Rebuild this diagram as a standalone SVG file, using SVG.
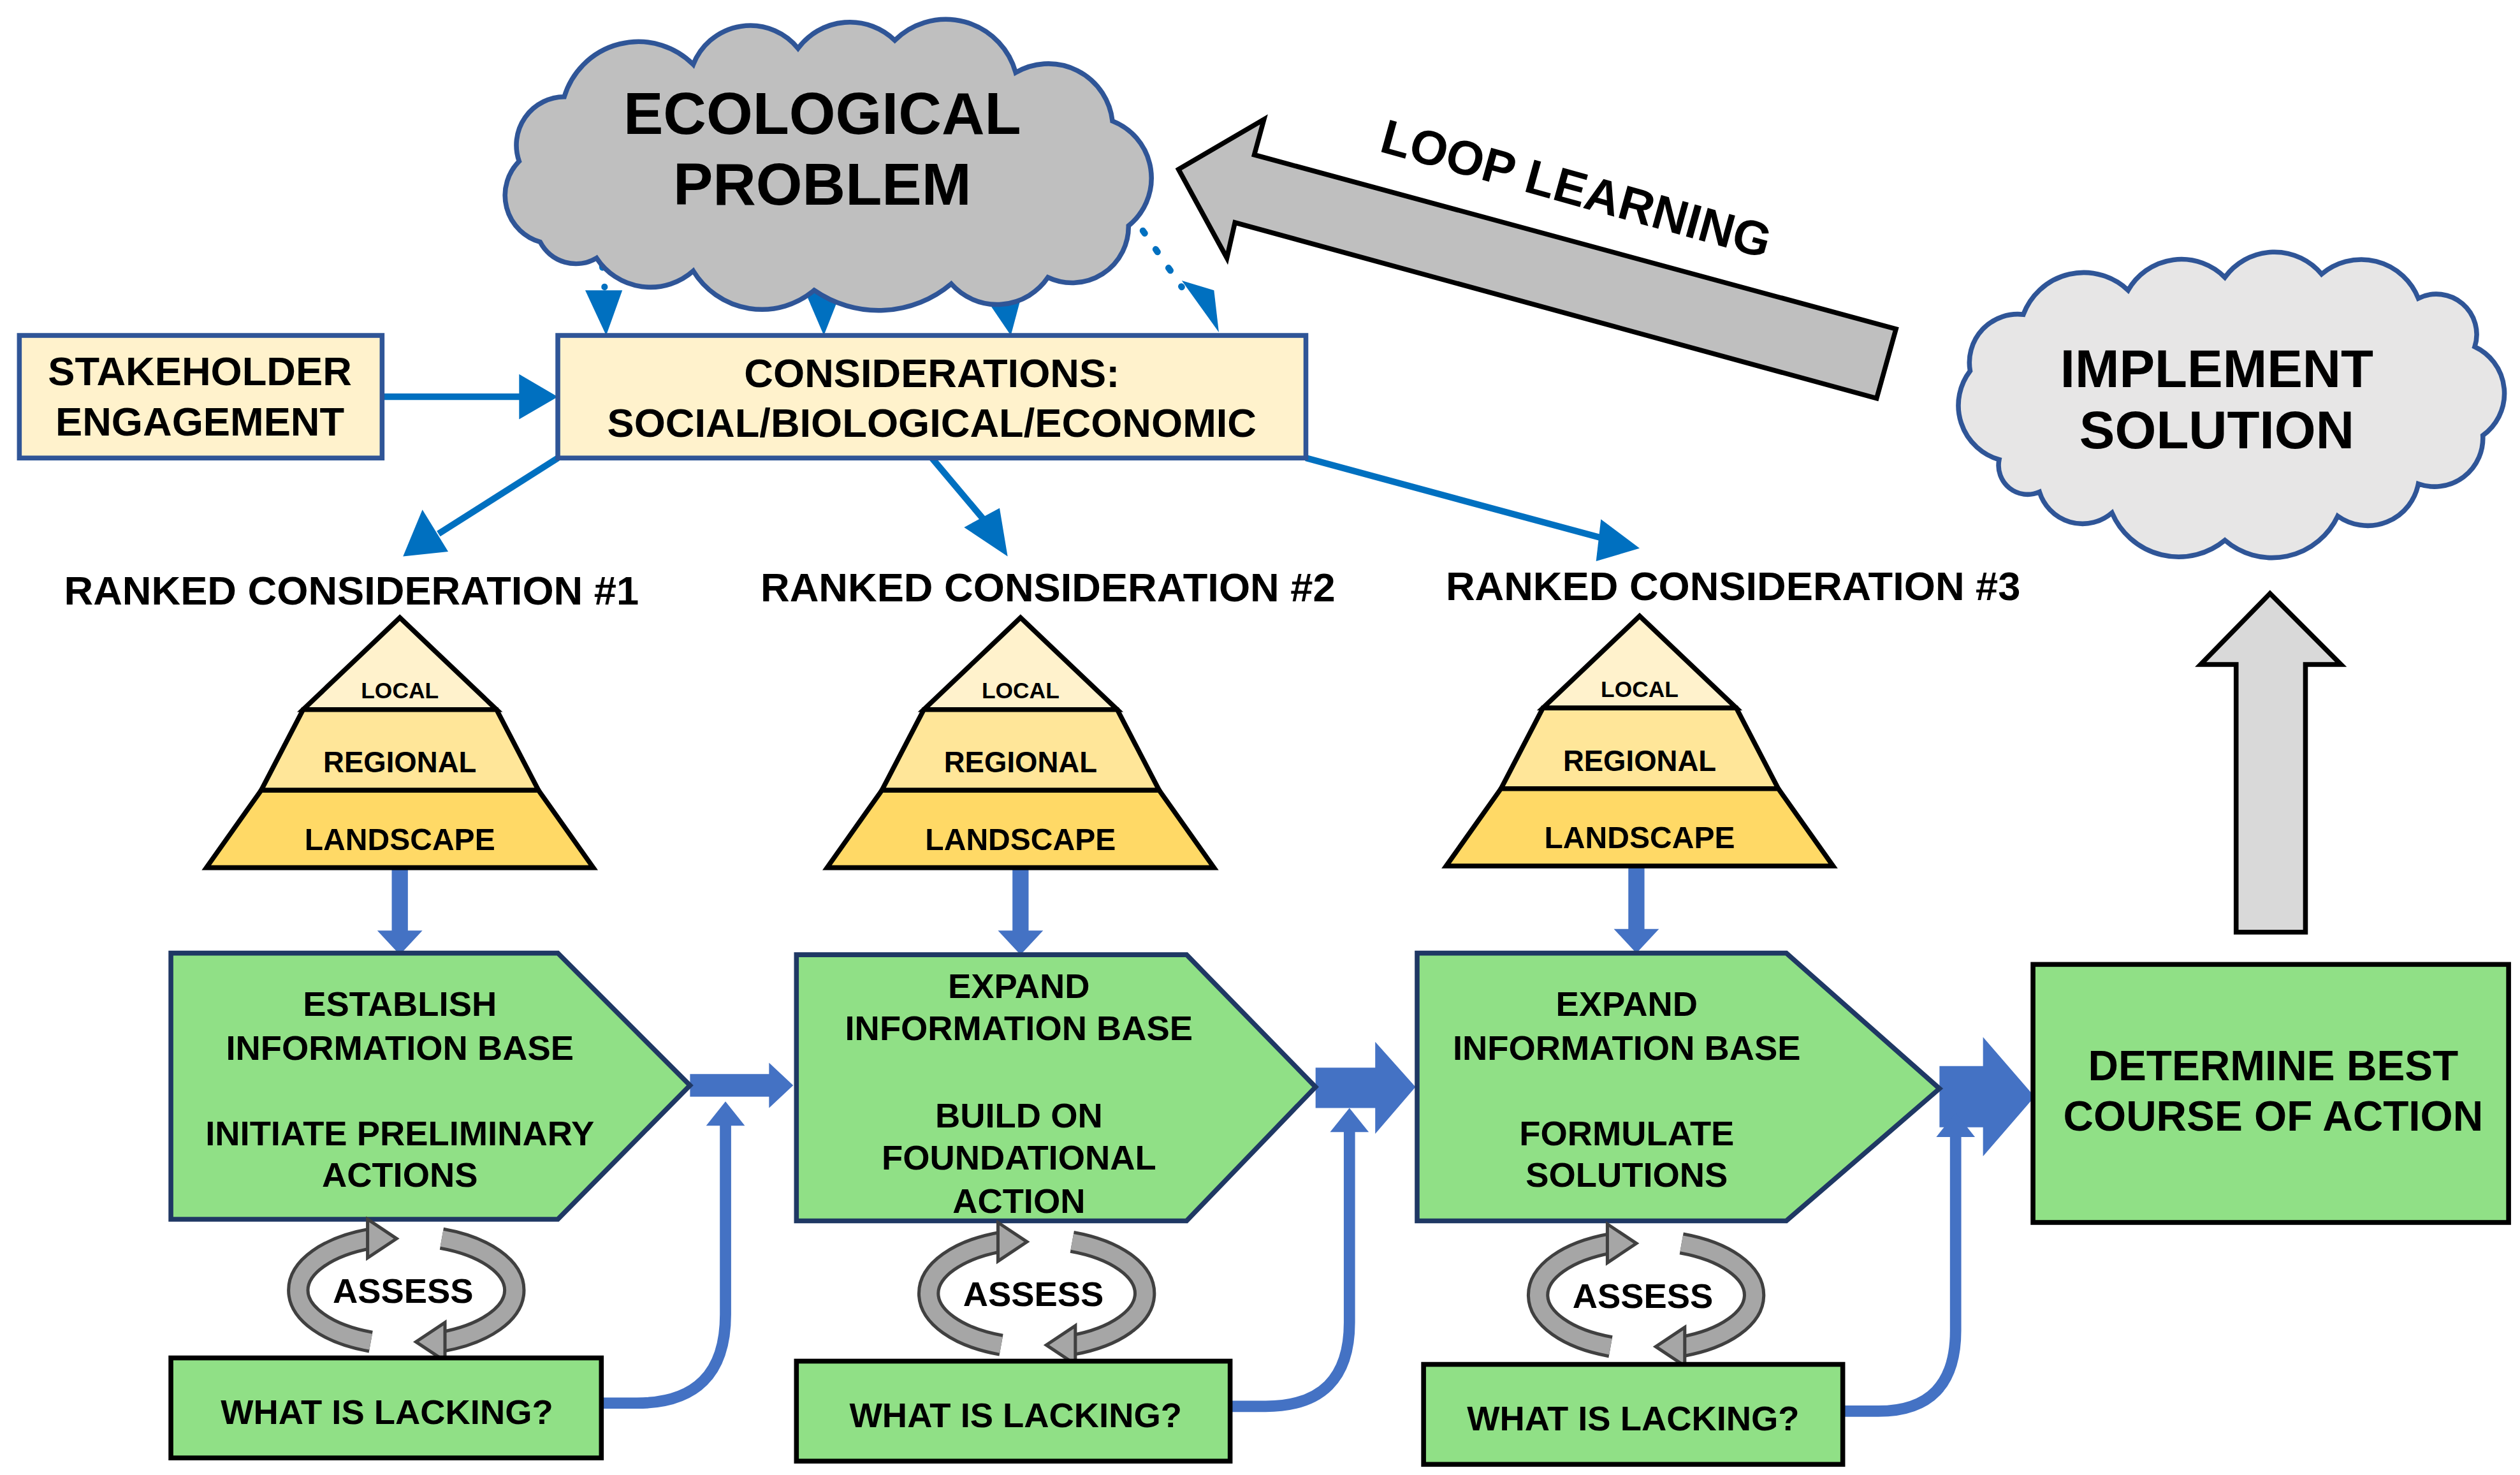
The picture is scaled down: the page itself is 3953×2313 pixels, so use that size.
<svg xmlns="http://www.w3.org/2000/svg" xmlns:xlink="http://www.w3.org/1999/xlink" width="3953" height="2313" viewBox="0 0 3953 2313">
<style>
text{font-family:"Liberation Sans",Arial,sans-serif;font-weight:bold;fill:#000;text-anchor:middle}
.t24{font-size:25px}.t21{font-size:21.5px}.t36{font-size:37px}
.cream{fill:#FFF2CC;stroke:#2F5597;stroke-width:3}
.green{fill:#90E086;stroke:#1F3864;stroke-width:3}
.greenk{fill:#90E086;stroke:#000;stroke-width:3}
.blue1{stroke:#0070C0;stroke-width:4;fill:none}
.dot{stroke:#0070C0;stroke-width:4;fill:none;stroke-dasharray:2 12;stroke-linecap:round}
.ah1{fill:#0070C0}
.b2{fill:#4472C4}
.b2l{stroke:#4472C4;stroke-width:7;fill:none}
.pyr{stroke:#000;stroke-width:3}
.ao{stroke:#404040;stroke-width:14;fill:none}
.ai{stroke:#A6A6A6;stroke-width:10;fill:none}
.ah{fill:#A6A6A6;stroke:#404040;stroke-width:2}
.cl{stroke:#2F5597;stroke-width:3}
</style>
<defs>
<g id="assess">
<path class="ao" d="M -22,32 A 68,34 0 0 1 -22,-32"/><path class="ai" d="M -22,32 A 68,34 0 0 1 -22,-32"/>
<polygon class="ah" points="-24,-44 -6,-32 -24,-20"/>
<path class="ao" d="M 22,-32 A 68,34 0 0 1 22,32"/><path class="ai" d="M 22,-32 A 68,34 0 0 1 22,32"/>
<polygon class="ah" points="24,20 6,32 24,44"/>
</g>
<g id="pyr">
<polygon points="0,0 -60,57 60,57" fill="#FFF2CC" class="pyr"/>
<polygon points="-60,57 60,57 86,107 -86,107" fill="#FFE699" class="pyr"/>
<polygon points="-86,107 86,107 120,155 -120,155" fill="#FFD966" class="pyr"/>
<text x="0" y="50" style="font-size:14px">LOCAL</text>
<text x="0" y="96" style="font-size:18px">REGIONAL</text>
<text x="0" y="144" style="font-size:19px">LANDSCAPE</text>
</g>
</defs>
<rect width="3953" height="2313" fill="#fff"/>
<g transform="scale(2.529)">
<g id="connectors">
<path class="dot" d="M372,150 L375,178"/><polygon class="ah1" points="363,180 386,180 376,208"/>
<path class="dot" d="M510,140 L510,178"/><polygon class="ah1" points="499,180 522,180 511,208"/>
<path class="dot" d="M618,140 L621,176"/><polygon class="ah1" points="610,183 635,178 627,208"/>
<path class="dot" d="M693,120 L733,178"/><polygon class="ah1" points="733,174 753,180 756,206"/>
<path class="blue1" d="M237,246 L325,246"/><polygon class="ah1" points="322,232 346,246 322,260"/>
<path class="blue1" d="M346,284 L272,331"/><polygon class="ah1" points="262,316 250,345 278,342"/>
<path class="blue1" d="M578,284 L610,322"/><polygon class="ah1" points="598,327 625,345 620,315"/>
<path class="blue1" d="M810,284 L995,334"/><polygon class="ah1" points="993,322 1017,340 990,348"/>
<g class="b2">
<polygon points="243,538 253,538 253,577 262,577 248,592 234,577 243,577"/>
<polygon points="628,538 638,538 638,577 647,577 633,592 619,577 628,577"/>
<polygon points="1010,537 1020,537 1020,576 1029,576 1015,591 1001,576 1010,576"/>
<polygon points="428,666 477,666 477,659 492,673 477,687 477,680 428,680"/>
<polygon points="816,662 853,662 853,646 878,674 853,703 853,687 816,687"/>
<polygon points="1203,661 1230,661 1230,643 1262,680 1230,717 1230,699 1203,699"/>
<polygon points="438,698 450,683 462,698"/>
<polygon points="825,702 837,687 849,702"/>
<polygon points="1201,705 1213,690 1225,705"/>
</g>
<path class="b2l" d="M373,870 H395 Q450,870 450,815 V697"/>
<path class="b2l" d="M763,872 H785 Q837,872 837,820 V701"/>
<path class="b2l" d="M1143,875 H1165 Q1213,875 1213,825 V704"/>
</g>
<g id="loop-learning">
<polygon points="731,105 784,74 778,96 1176,204 1164,247 766,138 761,160" fill="#BFBFBF" stroke="#000" stroke-width="3"/>
<text transform="translate(975,127) rotate(15.5)" style="font-size:30px">LOOP LEARNING</text>
</g>
<g id="ecological-problem">
<path class="cl" fill="#BFBFBF" d="M335,150 A30,30 0 0 1 322,100 A30,30 0 0 1 350,60 A48,48 0 0 1 430,40 A38,38 0 0 1 495,30 A40,40 0 0 1 555,25 A45,45 0 0 1 630,45 A40,40 0 0 1 690,75 A38,38 0 0 1 700,140 A35,35 0 0 1 650,172 A38,38 0 0 1 590,176 A70,70 0 0 1 505,180 A50,50 0 0 1 430,168 A40,40 0 0 1 370,160 A25,25 0 0 1 335,150 Z"/>
<text class="t36" x="510" y="83">ECOLOGICAL</text>
<text class="t36" x="510" y="127">PROBLEM</text>
</g>
<g id="implement-solution">
<path class="cl" fill="#E7E6E6" d="M1240,285 A35,35 0 0 1 1222,230 A30,30 0 0 1 1255,195 A40,40 0 0 1 1320,180 A38,38 0 0 1 1380,172 A38,38 0 0 1 1440,170 A38,38 0 0 1 1500,185 A25,25 0 0 1 1535,215 A32,32 0 0 1 1540,270 A30,30 0 0 1 1500,300 A32,32 0 0 1 1450,320 A45,45 0 0 1 1380,335 A45,45 0 0 1 1310,318 A28,28 0 0 1 1265,305 A18,18 0 0 1 1240,285 Z"/>
<text x="1375" y="240" style="font-size:33px">IMPLEMENT</text>
<text x="1375" y="278" style="font-size:33px">SOLUTION</text>
</g>
<g id="stakeholder">
<rect class="cream" x="12" y="208" width="225" height="76"/>
<text class="t24" x="124" y="239">STAKEHOLDER</text>
<text class="t24" x="124" y="270">ENGAGEMENT</text>
</g>
<g id="considerations">
<rect class="cream" x="346" y="208" width="464" height="76"/>
<text class="t24" x="578" y="240">CONSIDERATIONS:</text>
<text class="t24" x="578" y="271">SOCIAL/BIOLOGICAL/ECONOMIC</text>
</g>
<g id="ranked-1"><text class="t24" x="218" y="375">RANKED CONSIDERATION #1</text><use xlink:href="#pyr" transform="translate(248,383)"/></g>
<g id="ranked-2"><text class="t24" x="650" y="373">RANKED CONSIDERATION #2</text><use xlink:href="#pyr" transform="translate(633,383)"/></g>
<g id="ranked-3"><text class="t24" x="1075" y="372">RANKED CONSIDERATION #3</text><use xlink:href="#pyr" transform="translate(1017,382)"/></g>
<g id="step-1">
<polygon class="green" points="106,591 346,591 428,673 346,756 106,756"/>
<text class="t21" x="248" y="630">ESTABLISH</text>
<text class="t21" x="248" y="657">INFORMATION BASE</text>
<text class="t21" x="248" y="710">INITIATE PRELIMINARY</text>
<text class="t21" x="248" y="736">ACTIONS</text>
</g>
<g id="step-2">
<polygon class="green" points="494,592 736,592 816,674 736,757 494,757"/>
<text class="t21" x="632" y="619">EXPAND</text>
<text class="t21" x="632" y="645">INFORMATION BASE</text>
<text class="t21" x="632" y="699">BUILD ON</text>
<text class="t21" x="632" y="725">FOUNDATIONAL</text>
<text class="t21" x="632" y="752">ACTION</text>
</g>
<g id="step-3">
<polygon class="green" points="879,591 1108,591 1203,675 1108,757 879,757"/>
<text class="t21" x="1009" y="630">EXPAND</text>
<text class="t21" x="1009" y="657">INFORMATION BASE</text>
<text class="t21" x="1009" y="710">FORMULATE</text>
<text class="t21" x="1009" y="736">SOLUTIONS</text>
</g>
<g id="determine">
<rect class="greenk" x="1261" y="598" width="295" height="160"/>
<text x="1410" y="670" style="font-size:26px">DETERMINE BEST</text>
<text x="1410" y="701" style="font-size:26px">COURSE OF ACTION</text>
</g>
<g id="up-arrow">
<polygon points="1408,368 1452,412 1430,412 1430,578 1387,578 1387,412 1365,412" fill="#D9D9D9" stroke="#000" stroke-width="3"/>
</g>
<g id="assess-1"><use xlink:href="#assess" transform="translate(252,800)"/><text class="t21" x="250" y="808">ASSESS</text></g>
<g id="assess-2"><use xlink:href="#assess" transform="translate(643,802)"/><text class="t21" x="641" y="810">ASSESS</text></g>
<g id="assess-3"><use xlink:href="#assess" transform="translate(1021,803)"/><text class="t21" x="1019" y="811">ASSESS</text></g>
<g id="lacking-1"><rect class="greenk" x="106" y="842" width="267" height="62"/><text class="t21" x="240" y="883">WHAT IS LACKING?</text></g>
<g id="lacking-2"><rect class="greenk" x="494" y="844" width="269" height="62"/><text class="t21" x="630" y="885">WHAT IS LACKING?</text></g>
<g id="lacking-3"><rect class="greenk" x="883" y="846" width="260" height="62"/><text class="t21" x="1013" y="887">WHAT IS LACKING?</text></g>
</g>
</svg>
